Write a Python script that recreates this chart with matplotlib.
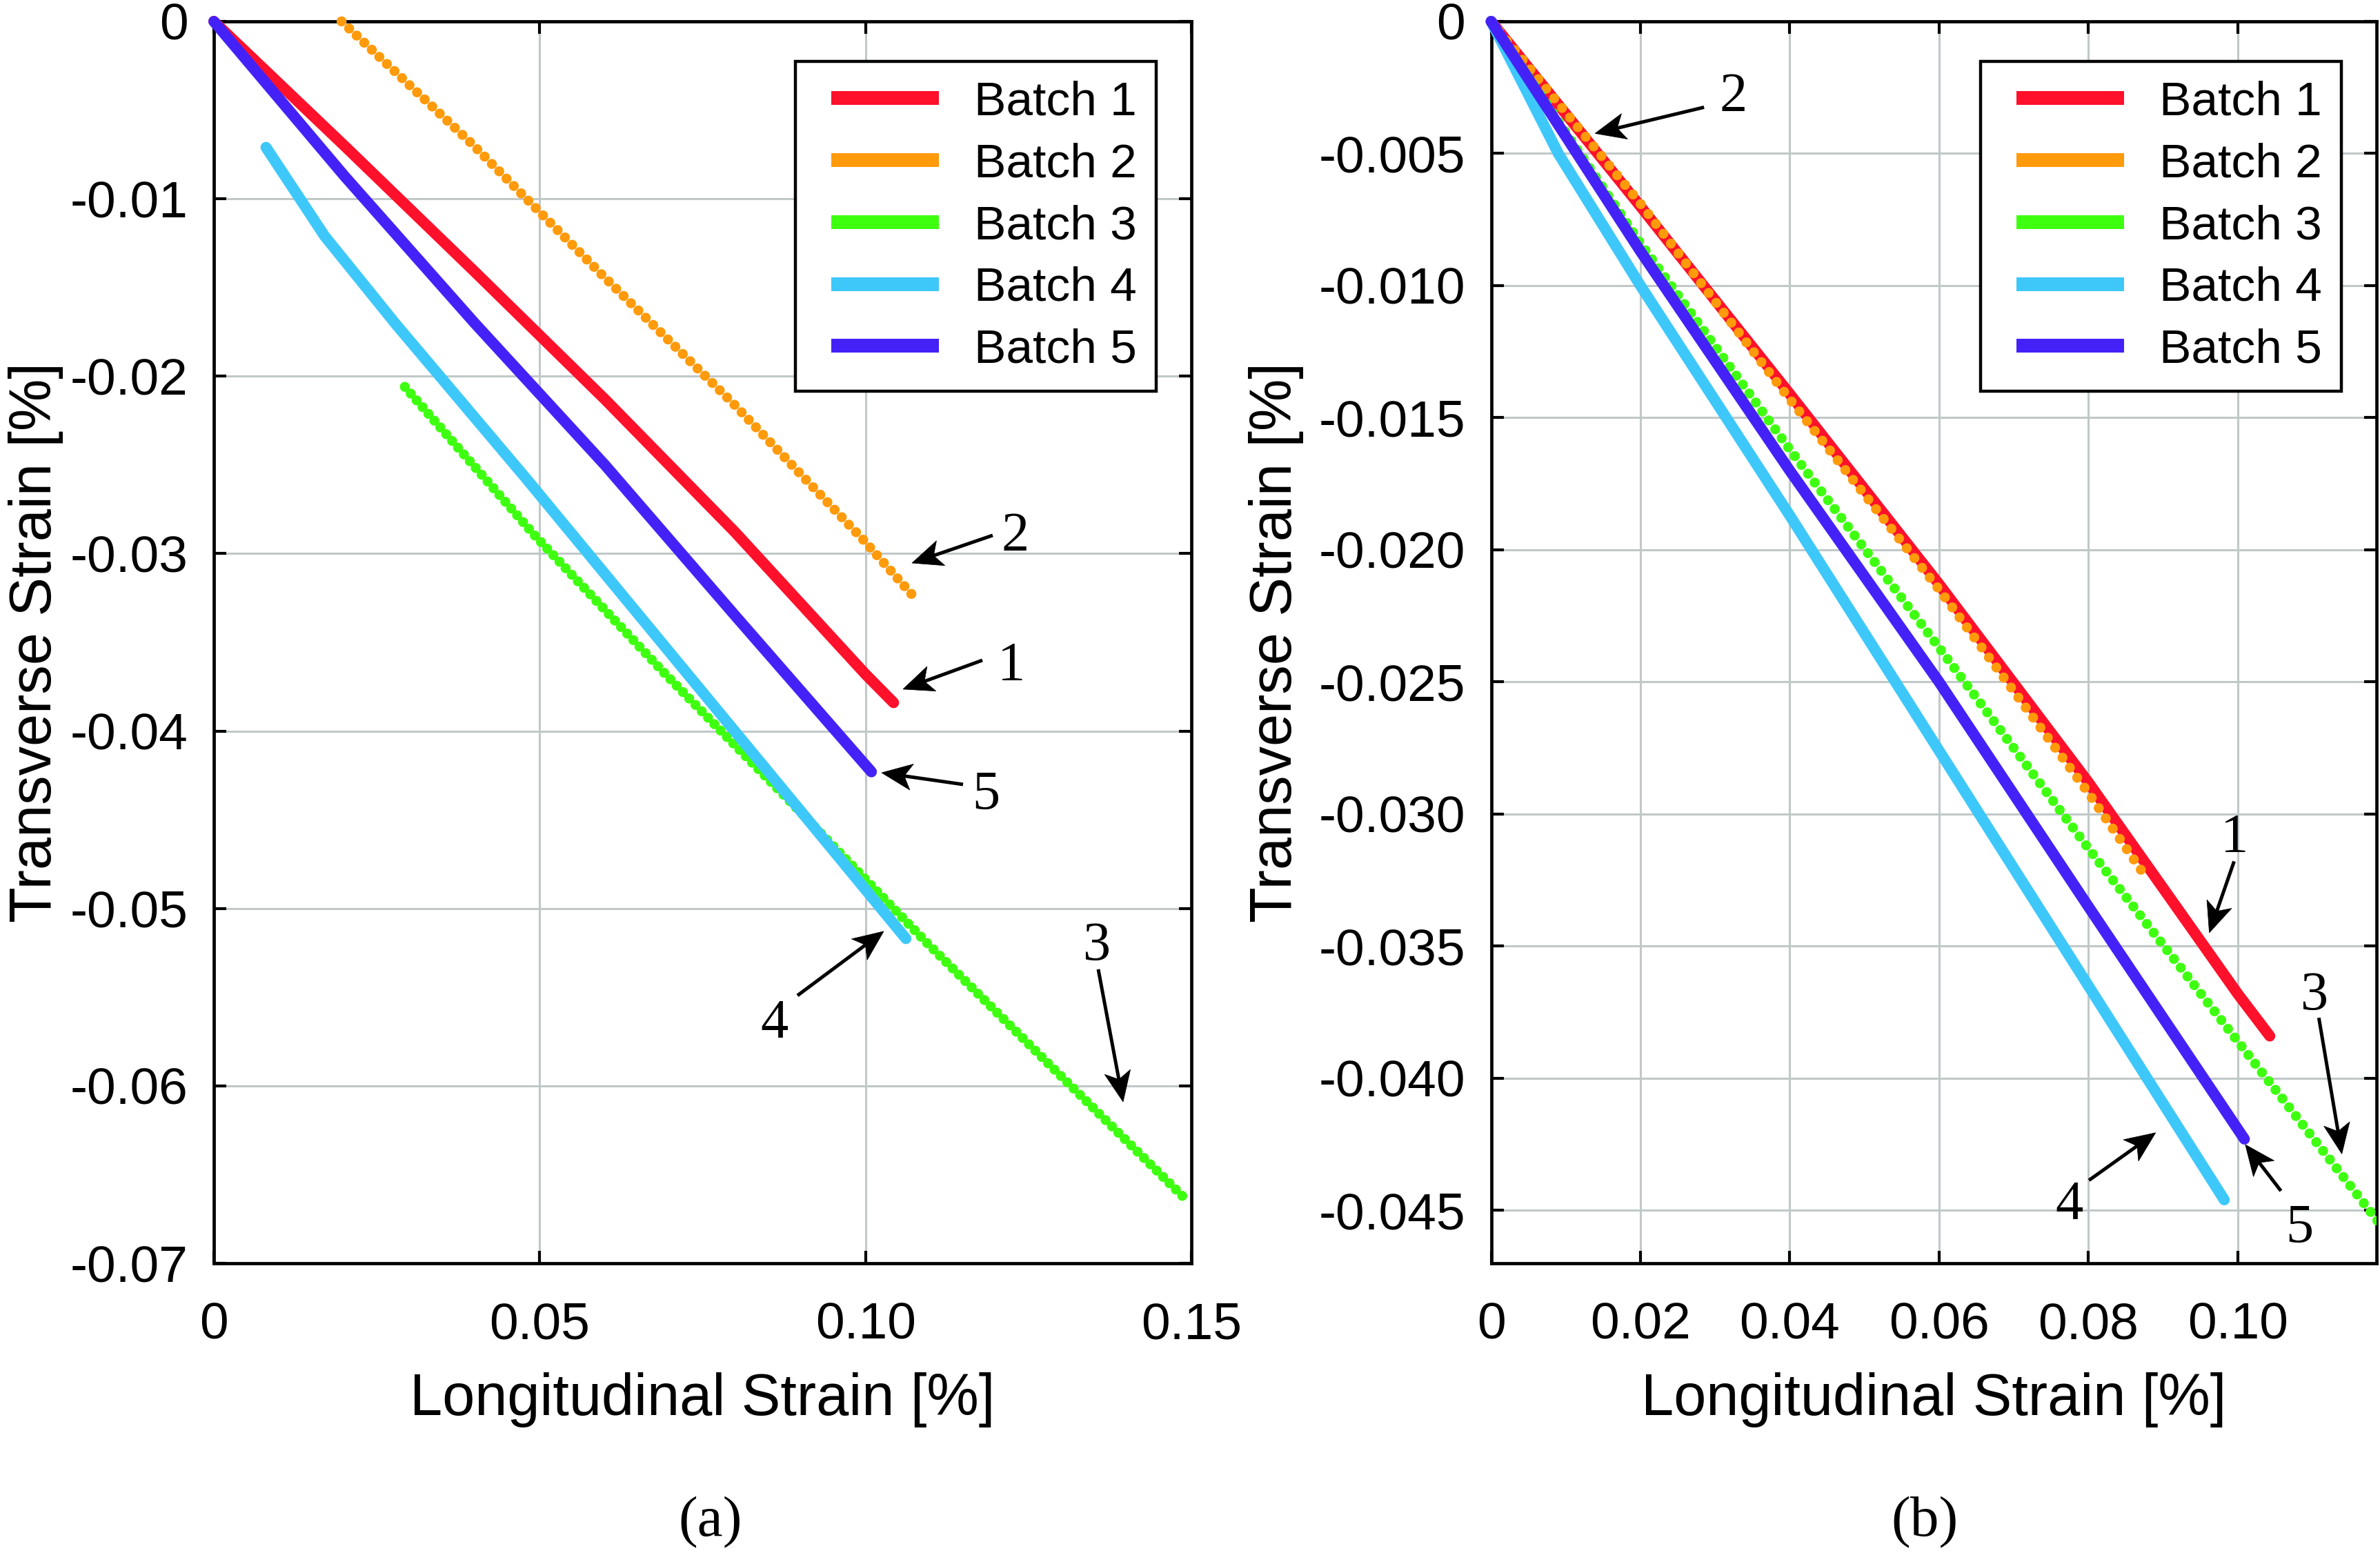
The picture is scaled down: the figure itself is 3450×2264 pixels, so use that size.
import numpy as np
import matplotlib
matplotlib.use("Agg")
import matplotlib.pyplot as plt
from matplotlib.lines import Line2D
from matplotlib.patches import Polygon
from matplotlib.transforms import IdentityTransform

# ---------------- data ----------------
# Curves as plotted in panel (b): every batch shifted to start at the origin
b1_x = [0, 0.020, 0.040, 0.060, 0.080, 0.100, 0.1043]
b1_y = [0, -0.0070, -0.0141, -0.0213, -0.0288, -0.0368, -0.0384]
b2_x = [0, 0.020, 0.040, 0.060, 0.080, 0.0875]
b2_y = [0, -0.0069, -0.0143, -0.0215, -0.0292, -0.0323]
b3_x = [0, 0.020, 0.040, 0.060, 0.080, 0.100, 0.1193]
b3_y = [0, -0.0084, -0.0162, -0.0237, -0.0313, -0.0386, -0.0456]
b4_x = [0, 0.0090, 0.020, 0.040, 0.060, 0.080, 0.0982]
b4_y = [0, -0.0050, -0.0100, -0.0187, -0.0276, -0.0365, -0.0446]
b5_x = [0, 0.020, 0.040, 0.060, 0.080, 0.1009]
b5_y = [0, -0.0087, -0.0170, -0.0250, -0.0335, -0.0423]

# Starting point of each batch in panel (a) (raw measurements)
start_x = [0.0, 0.0196, 0.0293, 0.0080, 0.0]
start_y = [0.0, 0.0, -0.0206, -0.0071, 0.0]

labels = ["Batch 1", "Batch 2", "Batch 3", "Batch 4", "Batch 5"]
colors = ["#FF102B", "#FF9A0A", "#3FFF10", "#3EC8FA", "#4422F7"]
dotted = [False, True, True, False, False]

xs_b = [b1_x, b2_x, b3_x, b4_x, b5_x]
ys_b = [b1_y, b2_y, b3_y, b4_y, b5_y]

xticks_a = [0, 0.05, 0.10, 0.15]
xticklabels_a = ["0", "0.05", "0.10", "0.15"]
yticks_a = [0, -0.01, -0.02, -0.03, -0.04, -0.05, -0.06, -0.07]
yticklabels_a = ["0", "-0.01", "-0.02", "-0.03", "-0.04", "-0.05", "-0.06", "-0.07"]
xticks_b = [0, 0.02, 0.04, 0.06, 0.08, 0.10]
xticklabels_b = ["0", "0.02", "0.04", "0.06", "0.08", "0.10"]
yticks_b = [0, -0.005, -0.010, -0.015, -0.020, -0.025, -0.030, -0.035, -0.040, -0.045]
yticklabels_b = ["0", "-0.005", "-0.010", "-0.015", "-0.020", "-0.025", "-0.030",
                 "-0.035", "-0.040", "-0.045"]

# annotation labels: (text, text_x, text_baseline_y, arrow_tail, arrow_tip)
ann_a = [
    ("2", 0.1230, -0.02983, (0.11951, -0.02897), (0.10713, -0.03053)),
    ("1", 0.12237, -0.03714, (0.11793, -0.03601), (0.10575, -0.03764)),
    ("5", 0.11845, -0.04441, (0.11496, -0.04301), (0.10247, -0.04235)),
    ("4", 0.08596, -0.05728, (0.08955, -0.05491), (0.10279, -0.05129)),
    ("3", 0.13550, -0.05293, (0.13571, -0.05343), (0.13952, -0.06090)),
]
ann_b = [
    ("2", 0.03248, -0.00339, (0.02852, -0.00325), (0.01392, -0.00424)),
    ("1", 0.09960, -0.03145, (0.09952, -0.03179), (0.09620, -0.03449)),
    ("3", 0.11026, -0.03742, (0.11087, -0.03771), (0.11395, -0.04286)),
    ("4", 0.07746, -0.04532, (0.08008, -0.04386), (0.08901, -0.04206)),
    ("5", 0.10825, -0.04621, (0.10579, -0.04426), (0.10102, -0.04251)),
]

# ---------------- styling ----------------
SANS = "Liberation Sans"
SERIF = "Liberation Serif"
plt.rcParams["font.family"] = [SANS, "DejaVu Sans"]

W, H = 3450, 2264
DPI = 100
PX_PER_PT = DPI / 72.0
fig = plt.figure(figsize=(W / DPI, H / DPI), dpi=DPI)
fig.patch.set_facecolor("white")

ax_a = fig.add_axes([310 / W, 1 - 1831 / H, 1417 / W, 1800 / H])
ax_b = fig.add_axes([2161.5 / W, 1 - 1831 / H, 1283.5 / W, 1800 / H])

SOLID_LW = 11.5
DOT_LW = 10.5
LEG_FS = 50
LEG_LW = 14.4


def style_axes(ax, xlim, ylim, xt, xtl, yt, ytl):
    ax.set_xlim(*xlim)
    ax.set_ylim(*ylim)
    ax.set_xticks(xt)
    ax.set_xticklabels(xtl)
    ax.set_yticks(yt)
    ax.set_yticklabels(ytl)
    ax.set_axisbelow(True)
    ax.grid(True, color="#c0c8c8", lw=2.2)
    for s in ax.spines.values():
        s.set_linewidth(3.4)
        s.set_color("black")
    ax.tick_params(axis="both", which="major", direction="in", length=13, width=3,
                   top=True, right=True, labelsize=54, colors="black")
    ax.tick_params(axis="x", pad=40)
    ax.tick_params(axis="y", pad=27)
    ax.set_xlabel("Longitudinal Strain [%]", fontsize=61)
    ax.set_ylabel("Transverse Strain [%]", fontsize=61)


def draw_series(ax, offset, dot_gap_px, clip_dotted):
    dot_px = DOT_LW * PX_PER_PT
    for i in range(5):
        x = [v + offset[0][i] for v in xs_b[i]]
        y = [v + offset[1][i] for v in ys_b[i]]
        if dotted[i]:
            ax.plot(x, y, color=colors[i], lw=DOT_LW,
                    linestyle=(0, (0.001, dot_gap_px[i] / dot_px)),
                    dash_capstyle="round", clip_on=clip_dotted[i], zorder=3 + i)
        else:
            ax.plot(x, y, color=colors[i], lw=SOLID_LW, solid_capstyle="round",
                    solid_joinstyle="round", clip_on=False, zorder=3 + i)


def add_legend(ax, ax_width_px):
    # handle drawn as a bar preceded by a small blank gap
    on_px, off_px = 156.0, 24.0
    on_u = on_px / PX_PER_PT / LEG_LW
    off_u = off_px / PX_PER_PT / LEG_LW
    hl = (on_px + off_px) / (LEG_FS * PX_PER_PT)
    handles = [Line2D([0], [0], color=c, lw=LEG_LW, linestyle=(on_u, (on_u, off_u)),
                      dash_capstyle="butt") for c in colors]
    leg = ax.legend(handles, labels, loc="upper right",
                    bbox_to_anchor=(1 - 51 / ax_width_px, 1 - 58 / 1800),
                    borderaxespad=0, fontsize=LEG_FS, frameon=True, fancybox=False,
                    edgecolor="black", framealpha=1, borderpad=0.4, labelspacing=0.37,
                    handlelength=hl, handletextpad=0.74)
    leg.get_frame().set_linewidth(3.2)
    leg.set_zorder(20)


def arrow(ax, tail, tip, L=44.0, w=19.0, notch=11.0, lw=3.6):
    T = ax.transData.transform(tail)
    P = ax.transData.transform(tip)
    u = (P - T) / np.hypot(*(P - T))
    n = np.array([-u[1], u[0]])
    back = P - (L - notch) * u
    shaft = Line2D([T[0], back[0]], [T[1], back[1]], lw=lw, color="black",
                   transform=IdentityTransform(), solid_capstyle="butt", zorder=15)
    head = Polygon([P, P - L * u + w * n, back, P - L * u - w * n], closed=True,
                   facecolor="black", edgecolor="black", lw=0.5,
                   transform=IdentityTransform(), zorder=15)
    fig.add_artist(shaft)
    fig.add_artist(head)


def add_annotations(ax, anns):
    for txt, tx, ty, tail, tip in anns:
        arrow(ax, tail, tip)
        ax.text(tx, ty, txt, family=[SERIF, "DejaVu Serif"], fontsize=58,
                ha="center", va="baseline", zorder=15)


# Panel (a): raw curves
style_axes(ax_a, (0, 0.15), (-0.07, 0), xticks_a, xticklabels_a, yticks_a, yticklabels_a)
draw_series(ax_a, (start_x, start_y), [0, 15.0, 13.0, 0, 0],
            [False, False, False, False, False])
add_legend(ax_a, 1417)
add_annotations(ax_a, ann_a)
ax_a.xaxis.set_label_coords(0.5, -0.088)
ax_a.yaxis.set_label_coords(-0.1537, 0.5)

# Panel (b): shifted curves
zeros = [0.0] * 5
style_axes(ax_b, (0, 0.1186), (-0.047, 0), xticks_b, xticklabels_b, yticks_b, yticklabels_b)
draw_series(ax_b, (zeros, zeros), [0, 18.0, 16.0, 0, 0],
            [False, False, True, False, False])
add_legend(ax_b, 1283.5)
add_annotations(ax_b, ann_b)
ax_b.xaxis.set_label_coords(0.5, -0.088)
ax_b.yaxis.set_label_coords(-0.2115, 0.5)

fig.text(1030 / W, 1 - 2207 / H, "(a)", family=[SERIF, "DejaVu Serif"], fontsize=60,
         ha="center", va="center")
fig.text(2790 / W, 1 - 2207 / H, "(b)", family=[SERIF, "DejaVu Serif"], fontsize=60,
         ha="center", va="center")

fig.savefig("out.png", dpi=DPI, facecolor="white")
